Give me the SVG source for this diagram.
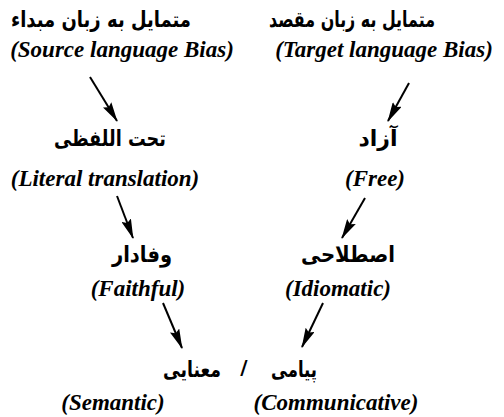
<svg xmlns="http://www.w3.org/2000/svg" width="504" height="417" viewBox="0 0 504 417">
<style>
.fa{font-family:"DejaVu Sans",sans-serif;font-weight:bold;font-size:22px;fill:#000;text-anchor:middle}
.en{font-family:"Liberation Serif",serif;font-style:italic;font-weight:bold;font-size:23px;fill:#000;text-anchor:middle}
.ar{stroke:#000;stroke-width:2;fill:none;marker-end:url(#ah)}
</style>
<defs>
<marker id="ah" viewBox="0 0 20 10" refX="19" refY="5" markerWidth="10" markerHeight="5" orient="auto" markerUnits="strokeWidth">
<path d="M0,0 L20,5 L0,10 L3,5 Z" fill="#000"/>
</marker>
</defs>
<rect width="504" height="417" fill="#fff"/>
<g id="source"><text class="fa" x="101" y="27" textLength="180" lengthAdjust="spacingAndGlyphs">متمایل به زبان مبداء</text><text class="en" x="122" y="57">(Source language Bias)</text></g>
<g id="target"><text class="fa" x="352" y="27" textLength="166" lengthAdjust="spacingAndGlyphs">متمایل به زبان مقصد</text><text class="en" x="384" y="57">(Target language Bias)</text></g>
<g id="literal"><text class="fa" x="110" y="146" textLength="112" lengthAdjust="spacingAndGlyphs">تحت اللفظی</text><text class="en" x="105" y="186">(Literal translation)</text></g>
<g id="free"><text class="fa" x="378" y="146">آزاد</text><text class="en" x="375" y="186">(Free)</text></g>
<g id="faithful"><text class="fa" x="142" y="262" textLength="60" lengthAdjust="spacingAndGlyphs">وفادار</text><text class="en" x="138" y="296">(Faithful)</text></g>
<g id="idiomatic"><text class="fa" x="348" y="262" textLength="94" lengthAdjust="spacingAndGlyphs">اصطلاحی</text><text class="en" x="338" y="296">(Idiomatic)</text></g>
<g id="semantic"><text class="fa" x="192" y="377" textLength="58" lengthAdjust="spacingAndGlyphs">معنایی</text><text class="en" x="113" y="410">(Semantic)</text></g>
<g id="separator"><text class="fa" x="244" y="374" style="font-size:20px">/</text></g>
<g id="communicative"><text class="fa" x="294" y="377" textLength="46" lengthAdjust="spacingAndGlyphs">پیامی</text><text class="en" x="336" y="410">(Communicative)</text></g>
<g id="connectors">
<line class="ar" x1="90" y1="77" x2="117" y2="121"/>
<line class="ar" x1="409" y1="83" x2="388" y2="121"/>
<line class="ar" x1="117" y1="196" x2="133" y2="238"/>
<line class="ar" x1="365" y1="198" x2="342" y2="238"/>
<line class="ar" x1="163" y1="303" x2="182" y2="348"/>
<line class="ar" x1="323" y1="303" x2="302" y2="347"/>
</g>
</svg>
